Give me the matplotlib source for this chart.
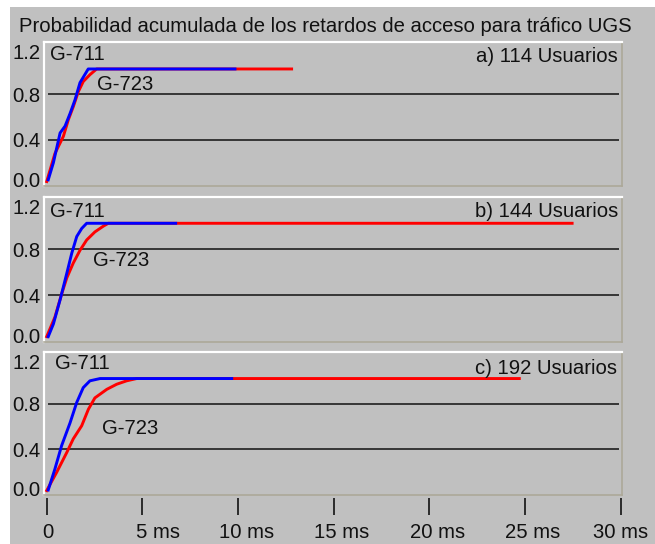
import matplotlib
matplotlib.use("Agg")
import matplotlib.pyplot as plt
from matplotlib.patches import Rectangle
import matplotlib.transforms as mtransforms

# ---- data ----
a_711_x = [0.08, 0.35, 0.70, 0.96, 1.22, 1.48, 1.74, 2.17, 9.84]
a_711_y = [0.05, 0.20, 0.46, 0.52, 0.63, 0.75, 0.90, 1.02, 1.02]
a_723_x = [0.0, 0.43, 0.87, 1.13, 1.39, 1.65, 1.91, 2.26, 2.61, 12.8]
a_723_y = [0.035, 0.28, 0.43, 0.575, 0.69, 0.82, 0.91, 0.97, 1.02, 1.02]

b_711_x = [0.08, 0.35, 0.70, 1.05, 1.31, 1.57, 1.83, 2.09, 6.74]
b_711_y = [0.04, 0.15, 0.36, 0.59, 0.765, 0.91, 0.98, 1.025, 1.025]
b_723_x = [0.0, 0.43, 0.78, 1.05, 1.39, 1.74, 2.09, 2.52, 2.96, 3.22, 27.46]
b_723_y = [0.04, 0.21, 0.41, 0.55, 0.68, 0.79, 0.88, 0.95, 1.0, 1.025, 1.025]

c_711_x = [0.08, 0.43, 0.78, 1.22, 1.57, 1.91, 2.26, 2.79, 9.67]
c_711_y = [0.04, 0.225, 0.43, 0.63, 0.81, 0.94, 1.0, 1.02, 1.02]
c_723_x = [0.0, 0.52, 1.05, 1.39, 1.83, 2.18, 2.52, 3.14, 3.66, 4.18, 4.70, 24.7]
c_723_y = [0.035, 0.195, 0.37, 0.49, 0.605, 0.75, 0.85, 0.925, 0.97, 1.0, 1.02, 1.02]

panel_titles = ["a) 114 Usuarios", "b) 144 Usuarios", "c) 192 Usuarios"]
series_names = ["G-711", "G-723"]
title = "Probabilidad acumulada de los retardos de acceso para tráfico UGS"
y_ticks = [0.0, 0.4, 0.8, 1.2]
y_tick_labels = ["0.0", "0.4", "0.8", "1.2"]
x_ticks = [0, 5, 10, 15, 20, 25, 30]
x_tick_labels = ["0", "5 ms", "10 ms", "15 ms", "20 ms", "25 ms", "30 ms"]

# ---- layout ----
W, H = 655, 544
plt.rcParams['font.family'] = ['Liberation Sans', 'DejaVu Sans']
fig = plt.figure(figsize=(W / 100, H / 100), dpi=100, facecolor='white')
BG = '#c0c0c0'
fig.patches.append(Rectangle((10 / W, 0), (W - 10) / W, (H - 7) / H,
                             transform=fig.transFigure, facecolor=BG,
                             edgecolor='none', zorder=-10))

FS = 14.6
TXT = '#111111'
fig.text(19 / W, 1 - 27 / H, title, fontsize=FS, ha='left', va='center', color=TXT)

left_px, right_px = 43.5, 621.7
panels_px = [(42, 186), (196.7, 341.7), (351.7, 495)]
data = [((a_711_x, a_711_y), (a_723_x, a_723_y)),
        ((b_711_x, b_711_y), (b_723_x, b_723_y)),
        ((c_711_x, c_711_y), (c_723_x, c_723_y))]
# label positions in pixels: (G-711 left, y), (G-723 left, y), (panel title right, y)
lab_px = [((50, 55), (97, 85), (618, 57)),
          ((50, 211.7), (92.7, 261), (618, 211.5)),
          ((55, 363.3), (101.7, 428.3), (617, 369))]


def shift(artist, dx_px, dy_px):
    artist.set_transform(artist.get_transform() +
                         mtransforms.ScaledTranslation(dx_px / 100, dy_px / 100,
                                                       fig.dpi_scale_trans))


for i, ((top, bot), (s711, s723), labs) in enumerate(zip(panels_px, data, lab_px)):
    ax = fig.add_axes([left_px / W, 1 - bot / H, (right_px - left_px) / W, (bot - top) / H])
    ax.set_facecolor(BG)
    ax.set_xlim(-0.167, 30.052)
    ax.set_ylim(-0.004, 1.256)
    ax.spines['top'].set_color('white')
    ax.spines['left'].set_color('white')
    ax.spines['right'].set_color('#aca899')
    ax.spines['bottom'].set_color('#aca899')
    for s in ['top', 'left']:
        ax.spines[s].set_linewidth(1.6)
    for s in ['right', 'bottom']:
        ax.spines[s].set_linewidth(1.2)
    ax.hlines([0.4, 0.8], 0.05, 29.9, color='#1e1e1e', lw=1.2, zorder=1)
    ax.plot(s723[0], s723[1], color='#ff0000', lw=2.1, zorder=3)
    ax.plot(s711[0], s711[1], color='#0000ff', lw=2.1, zorder=4)

    ax.set_yticks(y_ticks)
    ax.set_yticklabels(y_tick_labels, fontsize=FS, color=TXT)
    ax.tick_params(axis='y', length=0, pad=2)
    ylabs = ax.get_yticklabels()
    shift(ylabs[0], 0, 5.7)
    shift(ylabs[-1], 0, -3.4)

    def px2ax(x, y, top=top, bot=bot):
        return ((x - left_px) / (right_px - left_px), (bot - y) / (bot - top))

    ax.text(*px2ax(*labs[0]), series_names[0], transform=ax.transAxes, fontsize=FS,
            ha='left', va='center', color=TXT)
    ax.text(*px2ax(*labs[1]), series_names[1], transform=ax.transAxes, fontsize=FS,
            ha='left', va='center', color=TXT)
    ax.text(*px2ax(*labs[2]), panel_titles[i], transform=ax.transAxes, fontsize=FS,
            ha='right', va='center', color=TXT)

    ax.set_xticks([])
    if i == 2:
        sec = ax.secondary_xaxis(-3.0 / (bot - top))
        for s in sec.spines.values():
            s.set_visible(False)
        sec.set_xticks(x_ticks)
        sec.set_xticklabels(x_tick_labels, fontsize=FS, color=TXT)
        sec.tick_params(axis='x', length=12.2, width=1.2, color='#111111', pad=6)
        offsets = [1, 16, 9, 8, 8, 8, 0]
        for lab, off in zip(sec.get_xticklabels(), offsets):
            shift(lab, off, 0)

fig.savefig('out.png', dpi=100, facecolor='white')
